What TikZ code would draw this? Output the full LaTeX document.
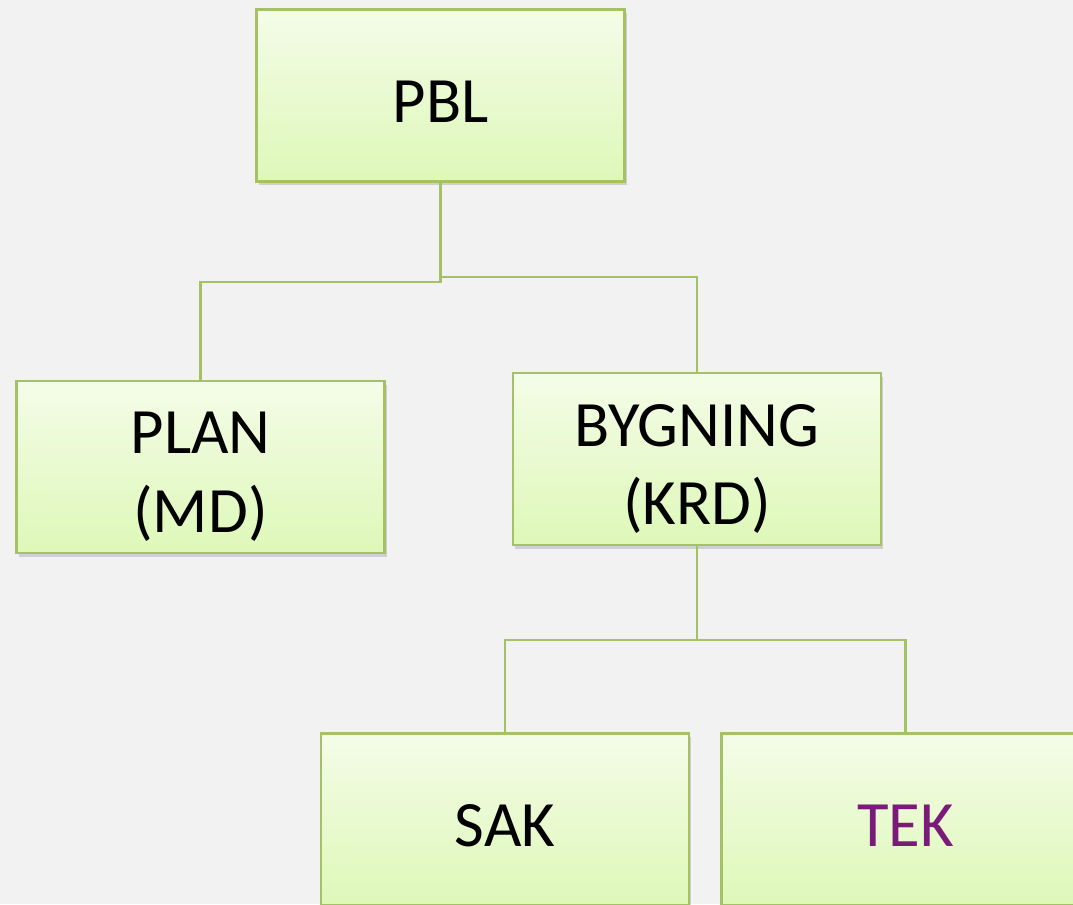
\documentclass[tikz,border=0pt]{standalone}
\usepackage{fontspec}
\setmainfont{Carlito}
\usepackage{xcolor}
\usepackage{tikz}
\usetikzlibrary{shadows}

\definecolor{boxtop}{RGB}{244,252,232}
\definecolor{boxbottom}{RGB}{222,248,184}
\definecolor{boxline}{RGB}{164,194,100}
\definecolor{bggray}{RGB}{242,242,242}
\definecolor{tekpurple}{RGB}{122,26,122}

\begin{document}
\begin{tikzpicture}[x=0.025cm, y=-0.025cm,
    box/.style={draw=boxline, line width=1.8pt, top color=boxtop, bottom color=boxbottom,
        minimum width=9.2cm, minimum height=4.3cm, inner sep=0pt,
        drop shadow={opacity=0.3, shadow xshift=1.5pt, shadow yshift=-2.5pt}},
    txt/.style={font=\fontsize{46}{56}\selectfont, align=center, inner sep=0pt},
    link/.style={draw=boxline, line width=1.8pt}]
    % Page
    \useasboundingbox (0,0) rectangle (1073,904);
    \clip (0,0) rectangle (1073,904);
    \fill[bggray] (0,0) rectangle (1073,904);

    % Boxes
    \node[box, label={[txt, yshift=-0.15cm]center:PBL}] (pbl) at (440.5,95.5) {};
    \node[box, label={[txt, yshift=-0.25cm]center:PLAN\\(MD)}] (plan) at (200.5,467) {};
    \node[box, label={[txt, yshift=-0.25cm]center:BYGNING\\(KRD)}] (bygning) at (697,459) {};
    \node[box, label={[txt, yshift=-0.15cm]center:SAK}] (sak) at (505,819.5) {};
    \node[box, label={[txt, text=tekpurple, yshift=-0.15cm]center:TEK}] (tek) at (905.5,819.5) {};

    % Connectors
    \draw[link] (pbl.south) -- ++(0,99) -| (plan.north);
    \draw[link] (pbl.south) -- ++(0,94) -| (bygning.north);
    \draw[link] (bygning.south) -- ++(0,93.5) -| (sak.north);
    \draw[link] (bygning.south) -- ++(0,93.5) -| (tek.north);
\end{tikzpicture}
\end{document}
